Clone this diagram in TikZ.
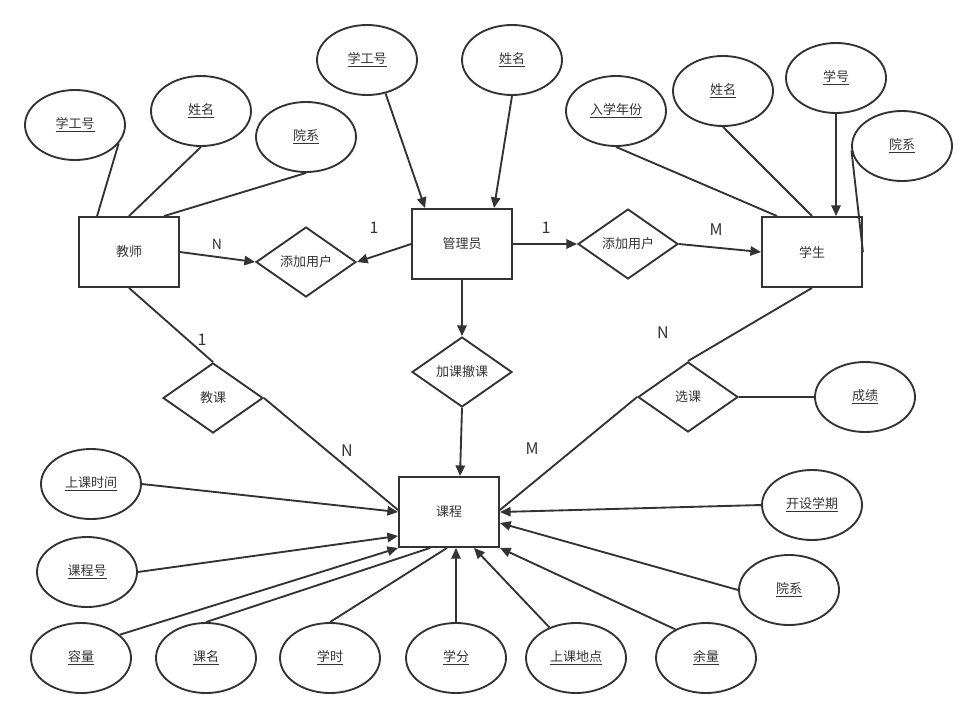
\documentclass[tikz,border=0pt]{standalone}
\usepackage{fontspec}
\newfontfamily\cjk{Noto Sans CJK SC}
\usetikzlibrary{shapes.geometric,arrows.meta,calc}
\definecolor{ink}{HTML}{333333}
\tikzset{
  entity/.style={draw=ink,line width=1.4pt,minimum width=75pt,minimum height=52.5pt,inner sep=0pt,text=ink,font=\cjk\fontsize{9.75}{12}\selectfont},
  attr/.style={ellipse,draw=ink,line width=1.4pt,minimum width=75pt,minimum height=52.5pt,inner sep=0pt,text=ink,font=\cjk\fontsize{9.75}{12}\selectfont},
  rel/.style={diamond,aspect=1.43,draw=ink,line width=1.4pt,minimum width=75pt,minimum height=52.5pt,inner sep=0pt,text=ink,font=\cjk\fontsize{9.75}{12}\selectfont},
  link/.style={draw=ink,line width=1.4pt},
  arr/.style={link,-{Triangle[length=8pt,width=7pt]}},
  card/.style={text=ink,font=\cjk\fontsize{12}{14}\selectfont}
}
\begin{document}
\begin{tikzpicture}[x=0.75pt,y=-0.75pt]
\useasboundingbox (0,0) rectangle (977,718);
\node [entity] (teacher) at (129,252) {教师};
\node [entity] (admin) at (462,244) {管理员};
\node [entity] (student) at (812,252) {学生};
\node [entity] (course) at (449,512) {课程};
\node [rel] (addT) at (306,262) {添加用户};
\node [rel] (addS) at (628,244) {添加用户};
\node [rel] (change) at (462,372) {加课撤课};
\node [rel] (teach) at (213,398) {教课};
\node [rel] (choose) at (688,397) {选课};
\node [attr] (tid) at (75,125) {\underline{学工号}};
\node [attr] (tname) at (201,111) {\underline{姓名}};
\node [attr] (tdept) at (306,137) {\underline{院系}};
\node [attr] (aid) at (367,60) {\underline{学工号}};
\node [attr] (aname) at (512,60) {\underline{姓名}};
\node [attr] (syear) at (616,111) {\underline{入学年份}};
\node [attr] (sname) at (723,91) {\underline{姓名}};
\node [attr] (sid) at (836,78) {\underline{学号}};
\node [attr] (sdept) at (902,146) {\underline{院系}};
\node [attr] (grade) at (865,397) {\underline{成绩}};
\node [attr] (term) at (812,505) {\underline{开设学期}};
\node [attr] (ctime) at (91,484) {\underline{上课时间}};
\node [attr] (cno) at (87,572) {\underline{课程号}};
\node [attr] (cdept) at (789,590) {\underline{院系}};
\node [attr] (cap) at (81,658) {\underline{容量}};
\node [attr] (cname) at (206,658) {\underline{课名}};
\node [attr] (hours) at (330,658) {\underline{学时}};
\node [attr] (credit) at (456,658) {\underline{学分}};
\node [attr] (place) at (576,658) {\underline{上课地点}};
\node [attr] (left) at (706,658) {\underline{余量}};
\draw [link] (tid.-23) -- ($(teacher.north west)+(19,0)$);
\draw [link] (tname.south) -- (teacher.north);
\draw [link] (tdept.south) -- ($(teacher.north)+(35,0)$);
\draw [arr] (teacher.east) -- (addT.west);
\draw [arr] (admin.west) -- (addT.east);
\draw [arr] (aid.-61) -- ($(admin.north west)+(14,0)$);
\draw [arr] (aname.south) -- ($(admin.north)+(32,0)$);
\draw [arr] (admin.east) -- (addS.west);
\draw [arr] (addS.east) -- (student.west);
\draw [link] (syear.south) -- ($(student.north west)+(16,0)$);
\draw [link] (sname.south) -- (student.north);
\draw [arr] (sid.south) -- ($(student.north)+(24,0)$);
\draw [link] (sdept.185) -- (student.east);
\draw [link] (teacher.south) -- (teach.north);
\draw [link] (teach.east) -- ($(course.west)+(0,-2)$);
\draw [arr] (admin.south) -- (change.north);
\draw [arr] (change.south) -- ($(course.north)+(11,0)$);
\draw [link] (student.south) -- (choose.north);
\draw [link] (choose.west) -- ($(course.east)+(0,-2)$);
\draw [link] (choose.east) -- (grade.west);
\draw [arr] (term.west) -- (course.east);
\draw [arr] (cdept.west) -- ($(course.east)+(0,11)$);
\draw [arr] (ctime.east) -- (course.west);
\draw [arr] (cno.east) -- ($(course.south west)+(0,-12)$);
\draw [arr] (cap.31) -- (course.south west);
\draw [link] (cname.north) -- ($(course.south west)+(32,0)$);
\draw [link] (hours.north) -- ($(course.south)+(-2,0)$);
\draw [arr] (credit.north) -- ($(course.south)+(7,0)$);
\draw [arr] (place.131) -- ($(course.south)+(25,0)$);
\draw [arr] (left.137) -- (course.south east);
\node [card,font=\cjk\fontsize{10.5}{12}\selectfont] (nT) at (217,244) {N};
\node [card] (oneA) at (374,228) {1};
\node [card] (oneB) at (546,228) {1};
\node [card] (mS) at (716,230) {M};
\node [card] (oneT) at (202,340) {1};
\node [card] (nC) at (347,451) {N};
\node [card] (nS) at (663,333) {N};
\node [card] (mC) at (532,449) {M};
\end{tikzpicture}
\end{document}
